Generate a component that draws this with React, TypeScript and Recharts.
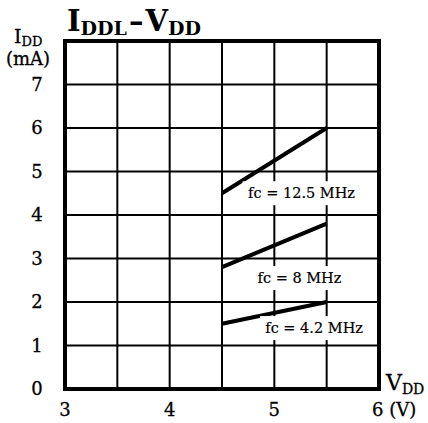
import React from "react";
import {
	LineChart,
	Line,
	XAxis,
	YAxis,
	CartesianGrid,
	ReferenceArea,
	ReferenceDot,
} from "recharts";

const vdd = [4.5, 5.5];
const fc125 = [4.5, 6.0];
const fc8 = [2.8, 3.8];
const fc42 = [1.5, 2.0];

const xTicks = [3, 3.5, 4, 4.5, 5, 5.5, 6];
const yTicks = [0, 1, 2, 3, 4, 5, 6, 7, 8];

const FONT = "'DejaVu Serif', serif";

const data = vdd.map((v, i) => ({
	vdd: v,
	a: fc125[i],
	b: fc8[i],
	c: fc42[i],
}));

const XTick = (props: any) => {
	const { x, y, payload } = props;
	const v = payload.value;
	if (v % 1 !== 0) return null;
	if (v === 6) {
		return (
			<text x={x - 7} y={y + 19} fontFamily={FONT} fontSize={18} fill="#000" stroke="#000" strokeWidth={0.3}>
				6 (V)
			</text>
		);
	}
	return (
		<text x={x} y={y + 19} textAnchor="middle" fontFamily={FONT} fontSize={18} fill="#000" stroke="#000" strokeWidth={0.3}>
			{v}
		</text>
	);
};

const YTick = (props: any) => {
	const { y, payload } = props;
	if (payload.value === 8) return null;
	return (
		<text x={37} y={y + 6} textAnchor="middle" fontFamily={FONT} fontSize={18} fill="#000" stroke="#000" strokeWidth={0.3}>
			{payload.value}
		</text>
	);
};

const makeLabel = (text: string, w: number) => (p: any) => (
	<g>
		<rect x={p.cx - w / 2} y={p.cy - 12} width={w} height={24} fill="#fff" />
		<text
			x={p.cx}
			y={p.cy + 5}
			textAnchor="middle"
			fontFamily={FONT}
			fontSize={14.5}
			fill="#000"
			stroke="#000"
			strokeWidth={0.2}
		>
			{text}
		</text>
	</g>
);

export default function App() {
	return (
		<div style={{ position: "absolute", left: 0, top: 0, background: "#fff" }}>
			<LineChart
				width={428}
				height={423}
				data={data}
				margin={{ top: 41, right: 49, bottom: 0, left: 15 }}
			>
				<CartesianGrid stroke="#000" strokeWidth={2} strokeOpacity={1} />
				<XAxis
					dataKey="vdd"
					type="number"
					domain={[3, 6]}
					ticks={xTicks}
					height={34}
					axisLine={false}
					tickLine={false}
					tick={<XTick />}
					interval={0}
				/>
				<YAxis
					type="number"
					domain={[0, 8]}
					ticks={yTicks}
					width={50}
					axisLine={false}
					tickLine={false}
					tick={<YTick />}
					interval={0}
				/>
				<ReferenceDot x={5.26} y={4.5} r={1} shape={makeLabel("fc = 12.5 MHz", 118)} />
				<ReferenceDot x={5.24} y={2.55} r={1} shape={makeLabel("fc = 8 MHz", 96)} />
				<ReferenceDot x={5.38} y={1.4} r={1} shape={makeLabel("fc = 4.2 MHz", 108)} />
				<ReferenceArea
					x1={3}
					x2={6}
					y1={0}
					y2={8}
					fill="none"
					stroke="#000"
					strokeWidth={4}
					fillOpacity={0}
					strokeOpacity={1}
				/>
				<Line dataKey="a" type="linear" stroke="#000" strokeWidth={4} dot={false} isAnimationActive={false} />
				<Line dataKey="b" type="linear" stroke="#000" strokeWidth={4} dot={false} isAnimationActive={false} />
				<Line dataKey="c" type="linear" stroke="#000" strokeWidth={4} dot={false} isAnimationActive={false} />
				<text x={67} y={31} fontFamily={FONT} fontWeight="bold" fill="#000">
					<tspan fontSize={29}>I</tspan>
					<tspan fontSize={19} dy={4}>DDL</tspan>
					<tspan fontSize={29} dy={-4} dx={2}>–</tspan>
					<tspan fontSize={29} dx={2}>V</tspan>
					<tspan fontSize={19} dy={4}>DD</tspan>
				</text>
				<text x={14} y={43} fontFamily={FONT} fill="#000" stroke="#000" strokeWidth={0.3}>
					<tspan fontSize={19}>I</tspan>
					<tspan fontSize={13} dy={3}>DD</tspan>
				</text>
				<text x={6} y={65} fontFamily={FONT} fontSize={18} fill="#000" stroke="#000" strokeWidth={0.3}>
					(mA)
				</text>
				<text x={386} y={390} fontFamily={FONT} fill="#000" stroke="#000" strokeWidth={0.3}>
					<tspan fontSize={22}>V</tspan>
					<tspan fontSize={14} dy={4}>DD</tspan>
				</text>
			</LineChart>
		</div>
	);
}
